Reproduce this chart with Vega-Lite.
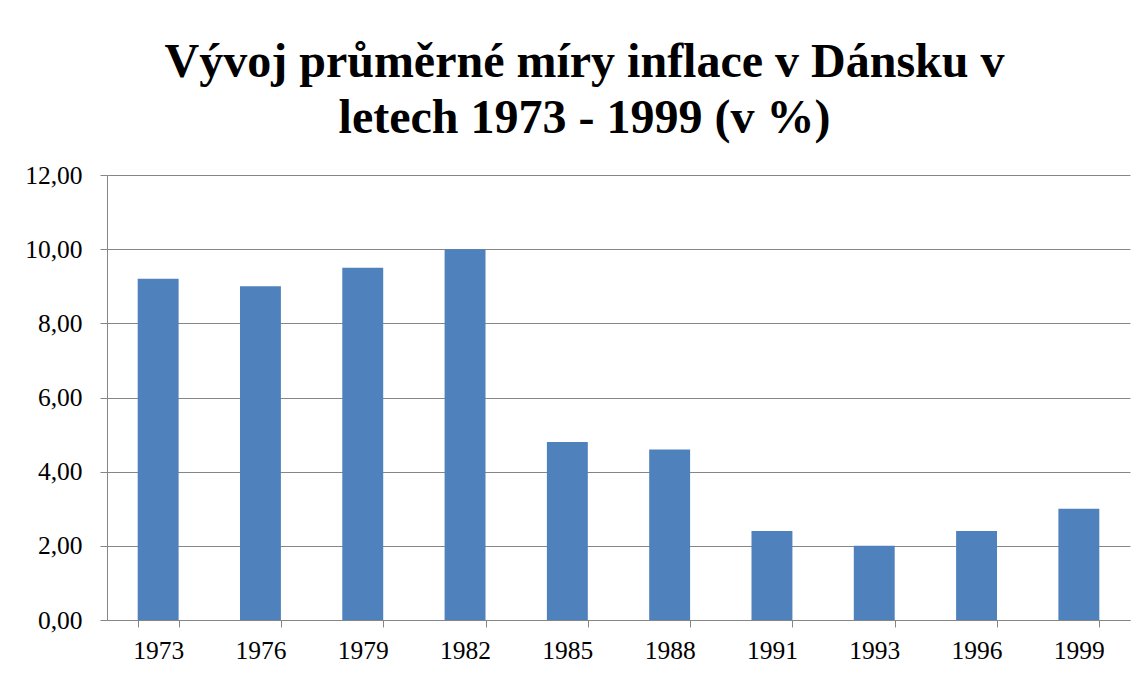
{
  "$schema": "https://vega.github.io/schema/vega-lite/v6.json",
  "width": 1023,
  "height": 445,
  "autosize": {"type": "none"},
  "padding": {"left": 107, "top": 175, "right": 15, "bottom": 55},
  "background": "white",
  "title": {
    "text": ["Vývoj průměrné míry inflace v Dánsku v", "letech 1973 - 1999 (v %)"],
    "font": "Liberation Serif",
    "fontSize": 48,
    "fontWeight": "bold",
    "color": "black",
    "lineHeight": 56,
    "anchor": "middle",
    "frame": "group",
    "dx": -34,
    "offset": 20
  },
  "data": {
    "values": [
      {"year": "1973", "value": 9.2},
      {"year": "1976", "value": 9.0},
      {"year": "1979", "value": 9.5},
      {"year": "1982", "value": 10.0},
      {"year": "1985", "value": 4.8},
      {"year": "1988", "value": 4.6},
      {"year": "1991", "value": 2.4},
      {"year": "1993", "value": 2.0},
      {"year": "1996", "value": 2.4},
      {"year": "1999", "value": 3.0}
    ]
  },
  "mark": {"type": "bar", "color": "#4F81BD"},
  "encoding": {
    "x": {
      "field": "year",
      "type": "nominal",
      "sort": null,
      "scale": {"paddingInner": 0.6, "paddingOuter": 0.3},
      "axis": {
        "title": null,
        "labelAngle": 0,
        "tickBand": "extent",
        "grid": false,
        "domainColor": "#868686",
        "tickColor": "#868686",
        "tickSize": 7,
        "labelFont": "Liberation Serif",
        "labelFontSize": 25.5,
        "labelColor": "black",
        "labelPadding": 11
      }
    },
    "y": {
      "field": "value",
      "type": "quantitative",
      "scale": {"domain": [0, 12], "nice": false},
      "axis": {
        "title": null,
        "values": [0, 2, 4, 6, 8, 10, 12],
        "labelExpr": "replace(format(datum.value, '.2f'), '.', ',')",
        "grid": true,
        "gridColor": "#868686",
        "gridWidth": 1,
        "domainColor": "#868686",
        "tickColor": "#868686",
        "tickSize": 7,
        "labelFont": "Liberation Serif",
        "labelFontSize": 25.5,
        "labelColor": "black",
        "labelPadding": 18
      }
    }
  },
  "config": {
    "view": {"stroke": null},
    "axis": {"domainWidth": 1, "tickWidth": 1}
  }
}
